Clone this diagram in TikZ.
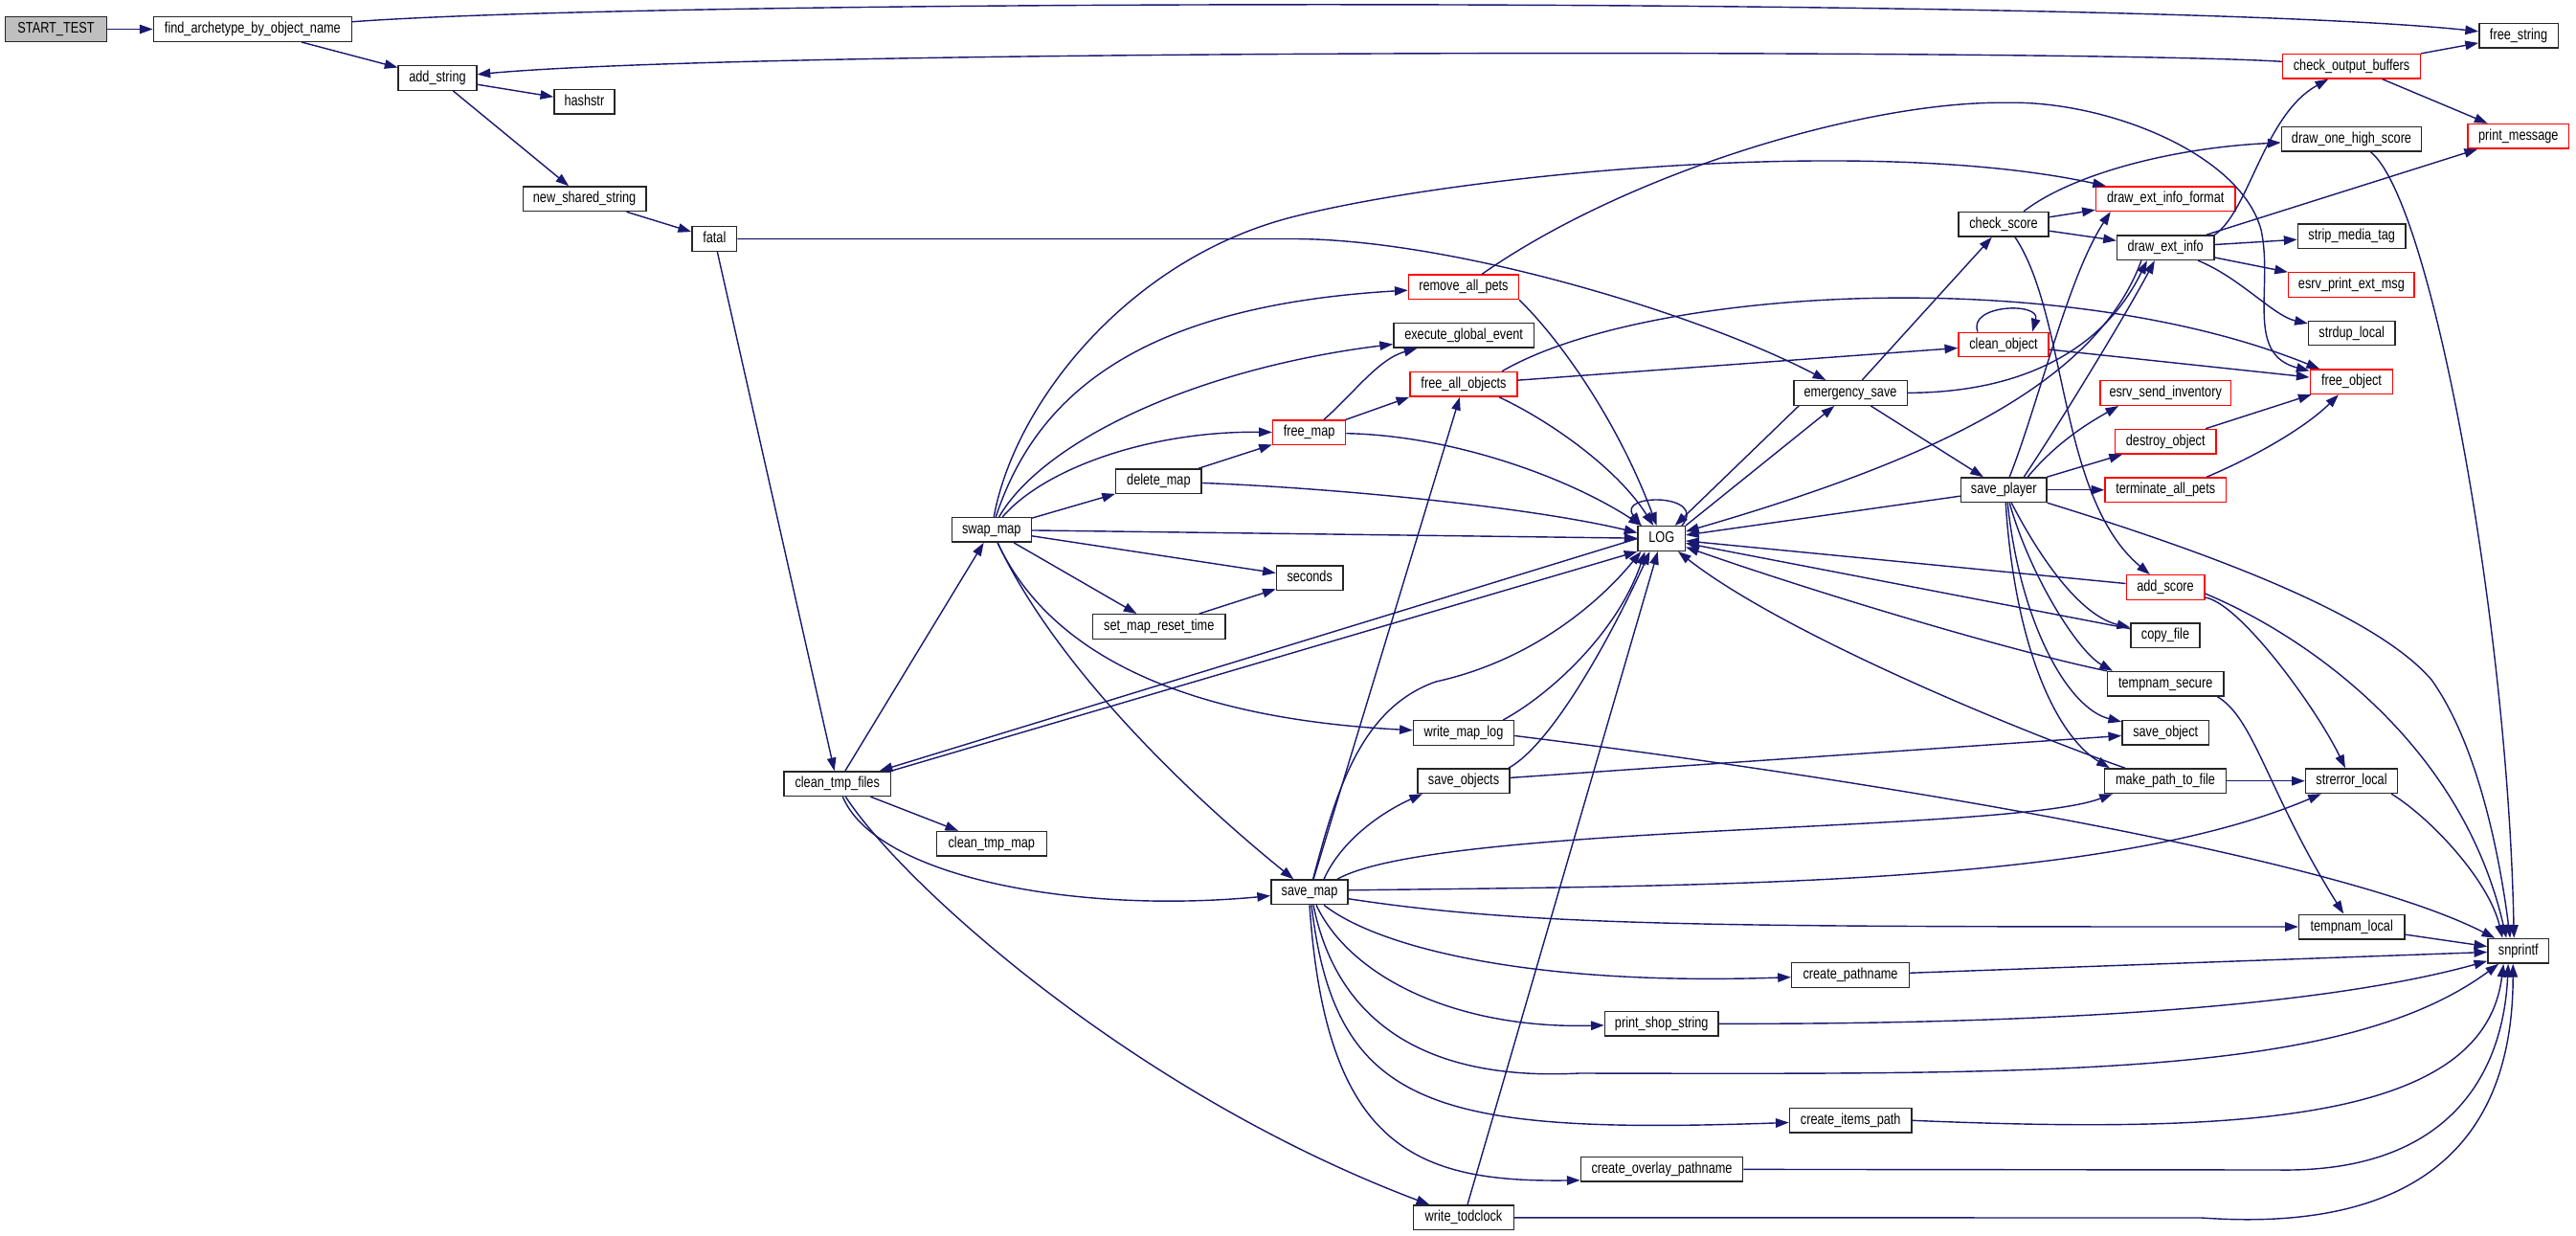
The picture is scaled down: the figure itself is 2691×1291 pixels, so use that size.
\documentclass[tikz,border=0pt]{standalone}
\usepackage{fontspec}
\setmainfont{Liberation Sans}[FakeStretch=0.8]
\usetikzlibrary{arrows.meta,calc}
\definecolor{cgblue}{RGB}{25,25,112}
\begin{document}
\begin{tikzpicture}[x=0.01cm,y=-0.01cm,
  fn/.style={draw=black!85, line width=0.42pt, fill=white, inner sep=0pt,
    minimum height=0.255cm, text height=3.3pt, text depth=1pt,
    font=\fontsize{4.52}{5.4}\selectfont},
  rfn/.style={fn, draw=red},
  cg/.style={draw=cgblue, line width=0.4pt, -{Triangle[length=3.9pt,width=2.7pt]}}]
\path[use as bounding box] (0,0) rectangle (2691,1291);

% nodes
\node[fn, fill=black!25, minimum width=1.058cm] (start) at (58.5,30.5) {START\_TEST};
\node[fn, minimum width=2.069cm] (find) at (263.9,30.5) {find\_archetype\_by\_object\_name};
\node[fn, minimum width=0.815cm] (addstr) at (457,81.5) {add\_string};
\node[fn, minimum width=0.629cm] (hashstr) at (610.4,106.4) {hashstr};
\node[fn, minimum width=1.284cm] (newss) at (610.6,207.8) {new\_shared\_string};
\node[fn, minimum width=0.468cm] (fatal) at (746.3,249.5) {fatal};
\node[rfn, minimum width=1.149cm] (remallpets) at (1528.9,299.8) {remove\_all\_pets};
\node[fn, minimum width=1.466cm] (execge) at (1529.1,350.3) {execute\_global\_event};
\node[rfn, minimum width=1.12cm] (freeallobj) at (1529,401.3) {free\_all\_objects};
\node[fn, minimum width=1.184cm] (emsave) at (1933,410.5) {emergency\_save};
\node[fn, minimum width=0.824cm] (freestring) at (2631,37.2) {free\_string};
\node[rfn, minimum width=1.435cm] (cob) at (2456.5,69.2) {check\_output\_buffers};
\node[fn, minimum width=1.461cm] (dohs) at (2456.5,145.3) {draw\_one\_high\_score};
\node[rfn, minimum width=1.055cm] (printmsg) at (2630.8,142.3) {print\_message};
\node[rfn, minimum width=1.453cm] (deif) at (2262.2,207.7) {draw\_ext\_info\_format};
\node[fn, minimum width=0.941cm] (chkscore) at (2093,234.3) {check\_score};
\node[fn, minimum width=1.011cm] (dei) at (2262.2,258.7) {draw\_ext\_info};
\node[fn, minimum width=1.127cm] (strip) at (2456.7,246.7) {strip\_media\_tag};
\node[rfn, minimum width=1.314cm] (esrvpem) at (2456.4,297.5) {esrv\_print\_ext\_msg};
\node[fn, minimum width=0.902cm] (strdup) at (2456.7,348) {strdup\_local};
\node[rfn, minimum width=0.941cm] (cleanobj) at (2093,360) {clean\_object};
\node[rfn, minimum width=0.863cm] (freeobj) at (2456.5,398.7) {free\_object};
\node[rfn, minimum width=1.366cm] (esi) at (2262.2,410.5) {esrv\_send\_inventory};
\node[fn, minimum width=0.828cm] (swapmap) at (1035.8,553.4) {swap\_map};
\node[fn, minimum width=0.893cm] (deletemap) at (1210.4,502.7) {delete\_map};
\node[fn, minimum width=1.387cm] (smrt) at (1210.8,654.5) {set\_map\_reset\_time};
\node[fn, minimum width=1.11cm] (ctf) at (874.7,818.7) {clean\_tmp\_files};
\node[fn, minimum width=0.694cm] (seconds) at (1368.2,603.9) {seconds};
\node[rfn, minimum width=0.759cm] (freemap) at (1367.6,451.9) {free\_map};
\node[fn, minimum width=0.49cm] (LOG) at (1735.7,562.5) {LOG};
\node[fn, minimum width=1.049cm] (wml) at (1529,765.5) {write\_map\_log};
\node[fn, minimum width=0.963cm] (saveobjs) at (1529,815.7) {save\_objects};
\node[rfn, minimum width=1.054cm] (destroyobj) at (2262.2,461.2) {destroy\_object};
\node[fn, minimum width=0.893cm] (saveplayer) at (2093.2,511.7) {save\_player};
\node[rfn, minimum width=1.262cm] (tap) at (2262.2,511.7) {terminate\_all\_pets};
\node[rfn, minimum width=0.815cm] (addscore) at (2262,613.5) {add\_score};
\node[fn, minimum width=0.72cm] (copyfile) at (2262,663.8) {copy\_file};
\node[fn, minimum width=1.21cm] (tsecure) at (2262.2,714.3) {tempnam\_secure};
\node[fn, minimum width=0.906cm] (saveobject) at (2262.2,765.3) {save\_object};
\node[fn, minimum width=1.267cm] (mptf) at (2262,815.7) {make\_path\_to\_file};
\node[fn, minimum width=0.959cm] (strerror) at (2456.5,815.7) {strerror\_local};
\node[fn, minimum width=1.149cm] (ctmap) at (1035.8,881.3) {clean\_tmp\_map};
\node[fn, minimum width=0.803cm] (savemap) at (1368,931.8) {save\_map};
\node[fn, minimum width=1.227cm] (createpn) at (1933,1018.5) {create\_pathname};
\node[fn, minimum width=1.184cm] (pss) at (1735.7,1069.3) {print\_shop\_string};
\node[fn, minimum width=1.275cm] (cip) at (1933.2,1170.3) {create\_items\_path};
\node[fn, minimum width=1.691cm] (copn) at (1736,1221.3) {create\_overlay\_pathname};
\node[fn, minimum width=1.049cm] (wtc) at (1529,1271.8) {write\_todclock};
\node[fn, minimum width=1.101cm] (tlocal) at (2456.7,968) {tempnam\_local};
\node[fn, minimum width=0.637cm] (snprintf) at (2630.8,993.3) {snprintf};

% edges
\draw[cg] (start) -- (find);
\draw[cg] (find) .. controls (700,-2) and (2250,-3) .. (freestring);
\draw[cg] (find) -- (addstr);
\draw[cg] (cob) .. controls (2200,52) and (800,50) .. (addstr);
\draw[cg] (cob) -- (freestring);
\draw[cg] (cob) -- (printmsg);
\draw[cg] (addstr) -- (hashstr);
\draw[cg] (addstr) -- (newss);
\draw[cg] (newss) -- (fatal);
\draw[cg] (fatal) -- (1350,249.5) .. controls (1520,249.5) and (1780,330) .. (emsave);
\draw[cg] (fatal) -- (ctf);
\draw[cg] (ctf) -- (swapmap);
\draw[cg] (LOG.west) -- (ctf);
\draw[cg] (ctf.north east) -- (LOG.south west);
\draw[cg] (ctf) -- (ctmap);
\draw[cg] (ctf) .. controls (915,915) and (1120,955) .. (savemap);
\draw[cg] (ctf) .. controls (940,920) and (1180,1140) .. (wtc);

\draw[cg] (swapmap) .. controls (1060,420) and (1180,270) .. (1350,226.7) .. controls (1520,183) and (1950,140) .. (deif);
\draw[cg] (swapmap) .. controls (1080,420) and (1180,320) .. (remallpets);
\draw[cg] (swapmap) .. controls (1090,460) and (1250,385) .. (execge);
\draw[cg] (swapmap) .. controls (1090,490) and (1200,450) .. (freemap);
\draw[cg] (swapmap) -- (deletemap);
\draw[cg] (swapmap) -- (LOG);
\draw[cg] (swapmap) -- (seconds);
\draw[cg] (swapmap) -- (smrt);
\draw[cg] (swapmap) .. controls (1100,690) and (1230,820) .. (savemap);
\draw[cg] (swapmap) .. controls (1095,680) and (1230,750) .. (wml);

\draw[cg] (freemap) .. controls (1415,410) and (1440,375) .. (execge);
\draw[cg] (freemap) -- (freeallobj.south west);
\draw[cg] (freemap) .. controls (1520,455) and (1640,500) .. (LOG);
\draw[cg] (deletemap) -- (freemap);
\draw[cg] (deletemap) .. controls (1400,510) and (1600,530) .. (LOG);
\draw[cg] (smrt) -- (seconds);

\draw[cg] (remallpets) .. controls (1700,180) and (1950,105) .. (2096.7,107.3) .. controls (2200,105) and (2340,160) .. (2362,240) .. controls (2375,300) and (2345,370) .. (freeobj);
\draw[cg] (remallpets.south east) .. controls (1630,355) and (1690,440) .. (LOG);

\draw[cg] (freeallobj) -- (cleanobj);
\draw[cg] ($(freeallobj.north)+(40,0)$) .. controls (1720,300) and (2150,275) .. (freeobj);
\draw[cg] ($(freeallobj.south)+(37,0)$) .. controls (1620,440) and (1690,490) .. (LOG);

\draw[cg] (emsave) .. controls (2120,410) and (2200,360) .. ($(dei.south west)+(32,0)$);
\draw[cg] (emsave) -- (chkscore);
\draw[cg] (emsave) -- (saveplayer);
\draw[cg] ($(emsave.south west)+(6,0)$) -- (LOG);
\draw[cg] (LOG.north east) -- (emsave);

\draw[cg] ($(chkscore.north)+(21,0)$) .. controls (2160,185) and (2260,155) .. (dohs);
\draw[cg] (chkscore) -- (deif);
\draw[cg] (chkscore) -- (dei);
\draw[cg] ($(chkscore.south)+(12,0)$) .. controls (2160,330) and (2150,520) .. (addscore);

\draw[cg] (dei.north east) .. controls (2350,220) and (2365,120) .. (cob);
\draw[cg] (dei) -- (printmsg);
\draw[cg] (dei) -- (strip);
\draw[cg] (dei) -- (esrvpem);
\draw[cg] ($(dei.south)+(34,0)$) .. controls (2340,290) and (2375,330) .. (strdup);
\draw[cg] ($(dei.south west)+(26,0)$) .. controls (2190,400) and (2020,480) .. (LOG);

\draw[cg] ($(dohs.south)+(20,0)$) .. controls (2540,210) and (2620,650) .. ($(snprintf.north west)+(28,0)$);

\draw[cg] ($(cleanobj.north)+(-27,0)$) .. controls (2055,318) and (2132,315) .. ($(cleanobj.north)+(30,0)$);
\draw[cg] (cleanobj) -- (freeobj);
\draw[cg] (destroyobj) -- (freeobj);
\draw[cg] ($(tap.north)+(43,0)$) .. controls (2360,475) and (2410,445) .. (freeobj);

\draw[cg] ($(saveplayer.north)+(6,0)$) .. controls (2130,420) and (2160,290) .. ($(deif.south west)+(16,0)$);
\draw[cg] ($(saveplayer.north)+(21,0)$) .. controls (2150,445) and (2220,330) .. ($(dei.south west)+(40,0)$);
\draw[cg] ($(saveplayer.north)+(25,0)$) .. controls (2150,460) and (2185,440) .. ($(esi.south west)+(20,0)$);
\draw[cg] (saveplayer) -- (destroyobj);
\draw[cg] (saveplayer) -- (tap);
\draw[cg] (saveplayer.south east) .. controls (2300,575) and (2480,640) .. (2540,710) .. controls (2590,780) and (2612,900) .. ($(snprintf.north west)+(24,0)$);
\draw[cg] (saveplayer) -- (LOG);
\draw[cg] ($(saveplayer.south)+(8,0)$) .. controls (2140,600) and (2180,645) .. (copyfile);
\draw[cg] ($(saveplayer.south)+(6,0)$) .. controls (2120,600) and (2170,680) .. ($(tsecure.north west)+(6,0)$);
\draw[cg] ($(saveplayer.south)+(4,0)$) .. controls (2110,650) and (2160,740) .. (saveobject);
\draw[cg] ($(saveplayer.south)+(2,0)$) .. controls (2105,680) and (2150,770) .. ($(mptf.north west)+(6,0)$);

\draw[cg] (addscore) -- (LOG);
\draw[cg] ($(addscore.south east)+(0,-3)$) .. controls (2340,630) and (2420,740) .. (strerror);
\draw[cg] ($(addscore.south east)+(0,-7)$) .. controls (2400,660) and (2570,770) .. ($(snprintf.north west)+(20,0)$);
\draw[cg] (copyfile) -- (LOG);
\draw[cg] (tsecure.north west) .. controls (2100,680) and (1900,620) .. (LOG);
\draw[cg] ($(tsecure.south east)+(-7,0)$) .. controls (2355,750) and (2370,830) .. (tlocal);
\draw[cg] ($(mptf.north west)+(22,0)$) .. controls (2100,760) and (1860,660) .. (LOG);
\draw[cg] (mptf) -- (strerror);
\draw[cg] ($(strerror.south east)+(-7,0)$) .. controls (2540,855) and (2600,920) .. ($(snprintf.north west)+(16,0)$);

\draw[cg] (saveobjs) -- (saveobject);
\draw[cg] ($(saveobjs.north east)+(-2,0)$) .. controls (1625,775) and (1690,650) .. ($(LOG.south west)+(13,0)$);

\draw[cg] (savemap) -- (freeallobj);
\draw[cg] (savemap) .. controls (1395,830) and (1420,740) .. (1500,712) .. controls (1600,690) and (1670,630) .. ($(LOG.south west)+(4,0)$);
\draw[cg] ($(savemap.north)+(15,0)$) .. controls (1400,880) and (1440,850) .. ($(saveobjs.south west)+(6,0)$);
\draw[cg] ($(savemap.north east)+(-12,0)$) .. controls (1500,860) and (2100,870) .. ($(mptf.south west)+(9,0)$);
\draw[cg] ($(savemap.east)+(0,-2)$) .. controls (1800,925) and (2200,925) .. (strerror);
\draw[cg] ($(savemap.east)+(0,7)$) .. controls (1600,968) and (1800,968) .. (tlocal);
\draw[cg] ($(savemap.south)+(15,0)$) .. controls (1440,990) and (1600,1030) .. (createpn);
\draw[cg] ($(savemap.south)+(7,0)$) .. controls (1410,1020) and (1520,1075) .. (pss);
\draw[cg] ($(savemap.south)+(4,0)$) .. controls (1395,1060) and (1480,1130) .. (1650,1121) .. controls (2150,1122) and (2450,1125) .. ($(snprintf.south west)+(12,0)$);
\draw[cg] ($(savemap.south)+(2,0)$) .. controls (1395,1160) and (1500,1185) .. (cip);
\draw[cg] (savemap.south) .. controls (1385,1200) and (1480,1235) .. ($(copn.south west)+(0,-2)$);

\draw[cg] ($(wml.north east)+(-12,0)$) .. controls (1620,725) and (1690,660) .. ($(LOG.south west)+(8,0)$);
\draw[cg] ($(wml.east)+(0,3)$) .. controls (2000,820) and (2450,900) .. ($(snprintf.north west)+(8,0)$);

\draw[cg] (createpn) -- (snprintf);
\draw[cg] (pss.east) .. controls (2200,1070) and (2450,1045) .. ($(snprintf.south west)+(0,-3)$);
\draw[cg] (cip.east) .. controls (2350,1185) and (2595,1170) .. ($(snprintf.south west)+(17,0)$);
\draw[cg] (copn) -- (2380,1222) .. controls (2560,1225) and (2615,1120) .. ($(snprintf.south west)+(22,0)$);
\draw[cg] (wtc) -- (2300,1272) .. controls (2480,1285) and (2625,1230) .. ($(snprintf.south west)+(27,0)$);
\draw[cg] (wtc) -- (LOG);
\draw[cg] (tlocal) -- (snprintf);

\draw[cg] ($(LOG.north east)+(-4,0)$) .. controls (1785,515) and (1688,515) .. ($(LOG.north west)+(4,0)$);
\end{tikzpicture}
\end{document}
